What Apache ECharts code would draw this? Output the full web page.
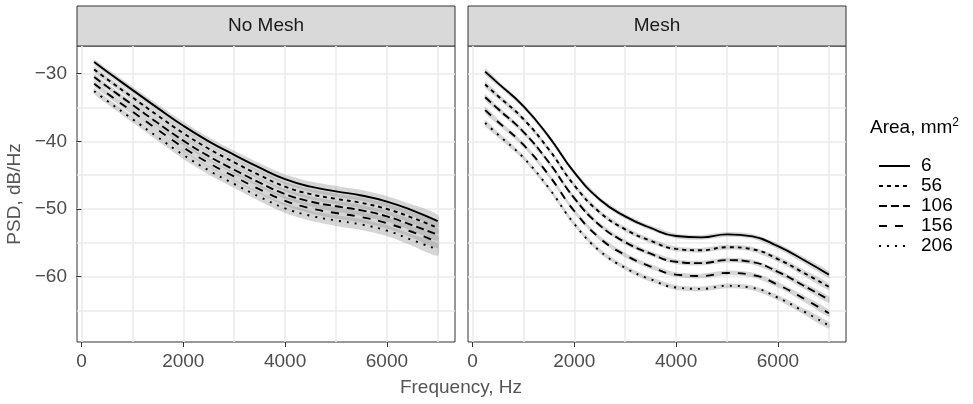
<!DOCTYPE html>
<html>
<head>
<meta charset="utf-8">
<script src="https://cdn.jsdelivr.net/npm/echarts@6/dist/echarts.min.js"></script>
<style>
  html, body { margin: 0; padding: 0; background: #fff; }
  #chart { width: 973px; height: 404px; }
</style>
</head>
<body>
<div id="chart"></div>
<script>
// 数据：频率 (Hz)
const freq = [250, 500, 1000, 1500, 2000, 2500, 3000, 3500, 4000, 4500, 5000, 5500, 6000, 6500, 7000];
const areas = ['6', '56', '106', '156', '206'];
const panels = ['No Mesh', 'Mesh'];

// No Mesh 面板
const noMesh6   = [-28.3, -29.7, -32.4, -35.1, -37.7, -40.0, -42.0, -43.9, -45.6, -46.7, -47.4, -48.0, -48.9, -50.2, -51.8];
const noMesh56  = [-29.4, -30.8, -33.5, -36.2, -38.8, -41.1, -43.1, -45.0, -46.7, -47.8, -48.5, -49.1, -50.0, -51.3, -52.8];
const noMesh106 = [-30.5, -31.9, -34.6, -37.3, -39.9, -42.2, -44.2, -46.1, -47.8, -48.9, -49.6, -50.2, -51.1, -52.4, -53.8];
const noMesh156 = [-31.5, -32.9, -35.6, -38.3, -40.9, -43.2, -45.2, -47.1, -48.8, -49.9, -50.6, -51.2, -52.1, -53.4, -54.9];
const noMesh206 = [-32.6, -34.0, -36.7, -39.4, -42.0, -44.3, -46.3, -48.2, -49.9, -51.0, -51.7, -52.3, -53.2, -54.6, -56.0];
const noMeshCI  = [0.4, 0.45, 0.5, 0.55, 0.6, 0.6, 0.6, 0.65, 0.7, 0.75, 0.8, 0.8, 0.8, 0.85, 0.9];

// Mesh 面板
const mesh6   = [-29.7, -31.4, -34.8, -39.3, -44.6, -48.6, -51.1, -52.8, -54.0, -54.2, -53.75, -54.05, -55.5, -57.5, -59.7];
const mesh56  = [-31.6, -33.3, -36.7, -41.2, -46.5, -50.5, -53.0, -54.7, -55.9, -56.1, -55.65, -55.95, -57.4, -59.4, -61.5];
const mesh106 = [-33.5, -35.2, -38.6, -43.1, -48.4, -52.4, -54.9, -56.6, -57.8, -58.0, -57.55, -57.85, -59.3, -61.3, -63.4];
const mesh156 = [-35.4, -37.1, -40.5, -45.0, -50.3, -54.3, -56.8, -58.5, -59.7, -59.9, -59.45, -59.75, -61.2, -63.2, -65.4];
const mesh206 = [-37.3, -39.0, -42.4, -46.9, -52.2, -56.2, -58.7, -60.4, -61.6, -61.8, -61.35, -61.65, -63.1, -65.1, -67.2];
const meshCI  = [0.45, 0.4, 0.35, 0.35, 0.35, 0.35, 0.35, 0.35, 0.35, 0.35, 0.35, 0.35, 0.4, 0.45, 0.5];

const xTicks = [0, 2000, 4000, 6000];
const yTicks = [-60, -50, -40, -30];

const FONT = '"Liberation Sans", Arial, Helvetica, sans-serif';
const dashList = ['solid', [4, 4], [8, 4], [8, 8], [2, 6]]; // 线型

const chart = echarts.init(document.getElementById('chart'));

const gridBox = [
    { left: 77, top: 46, width: 378, height: 296 },
    { left: 468, top: 46, width: 378, height: 296 }
];

function makeX(idx) {
    return {
        type: 'value', gridIndex: idx,
        min: -87.5, max: 7337.5, splitNumber: 4,
        axisLine: { show: false },
        axisTick: { show: true, length: 5, customValues: xTicks, lineStyle: { color: '#333', width: 1 } },
        axisLabel: {
            customValues: xTicks, color: '#4d4d4d', fontSize: 19, fontFamily: FONT, margin: 10,
            formatter: v => String(v)
        },
        splitLine: { show: true, lineStyle: { color: '#ebebeb', width: 1.6 } },
        minorTick: { show: false, splitNumber: 2 },
        minorSplitLine: { show: true, lineStyle: { color: '#ebebeb', width: 1.6 } }
    };
}

function makeY(idx) {
    return {
        type: 'value', gridIndex: idx,
        min: -69.65, max: -25.92, splitNumber: 4,
        axisLine: { show: false },
        axisTick: { show: idx === 0, length: 5, customValues: yTicks, lineStyle: { color: '#333', width: 1 } },
        axisLabel: {
            show: idx === 0, customValues: yTicks, color: '#4d4d4d', fontSize: 19, fontFamily: FONT, margin: 10,
            formatter: v => (v < 0 ? '\u2212' + Math.abs(v) : String(v))
        },
        splitLine: { show: true, lineStyle: { color: '#ebebeb', width: 1.6 } },
        minorTick: { show: false, splitNumber: 2 },
        minorSplitLine: { show: true, lineStyle: { color: '#ebebeb', width: 1.6 } }
    };
}

// 置信带：用 custom 系列画多边形
function bandSeries(idx, vals, ci) {
    return {
        type: 'custom', xAxisIndex: idx, yAxisIndex: idx, silent: true, z: 1,
        data: freq.map((f, j) => [f, vals[j] - ci[j], vals[j] + ci[j]]),
        encode: { x: 0, y: [1, 2] },
        renderItem: (params, api) => {
            if (params.dataIndex !== 0) return null;
            const upper = freq.map((f, j) => api.coord([f, vals[j] + ci[j]]));
            const lower = freq.map((f, j) => api.coord([f, vals[j] - ci[j]])).reverse();
            return {
                type: 'polygon',
                shape: { points: upper.concat(lower), smooth: 0.25 },
                style: { fill: 'rgba(153,153,153,0.4)', stroke: null }
            };
        }
    };
}

function panelSeries(idx, lines, ci) {
    const out = [];
    lines.forEach(vals => out.push(bandSeries(idx, vals, ci)));
    lines.forEach((vals, i) => {
        out.push({
            name: areas[i], type: 'line', xAxisIndex: idx, yAxisIndex: idx,
            symbol: 'none', smooth: 0.5, z: 3,
            lineStyle: { color: '#000', width: 1.9, type: dashList[i] },
            itemStyle: { color: '#000' },
            data: freq.map((f, j) => [f, vals[j]])
        });
    });
    return out;
}

const series = [].concat(
    panelSeries(0, [noMesh6, noMesh56, noMesh106, noMesh156, noMesh206], noMeshCI),
    panelSeries(1, [mesh6, mesh56, mesh106, mesh156, mesh206], meshCI)
);

// 分面标题条
const strips = [];
gridBox.forEach((g, i) => {
    strips.push({
        type: 'rect',
        shape: { x: g.left, y: 6, width: g.width, height: 40 },
        style: { fill: '#d9d9d9', stroke: '#333', lineWidth: 1 }
    });
    strips.push({
        type: 'text', x: g.left + g.width / 2, y: 26,
        style: { text: panels[i], fill: '#1a1a1a', font: '19px ' + FONT, align: 'center', verticalAlign: 'middle' }
    });
});

chart.setOption({
    animation: false,
    backgroundColor: '#fff',
    grid: gridBox.map(g => Object.assign({ show: true, borderColor: '#333', borderWidth: 1, backgroundColor: '#fff', containLabel: false }, g)),
    xAxis: [makeX(0), makeX(1)],
    yAxis: [makeY(0), makeY(1)],
    legend: {
        data: areas, orient: 'vertical', left: 873, top: 151,
        itemWidth: 31, itemHeight: 4, itemGap: 0, selectedMode: false,
        itemStyle: { color: 'rgba(0,0,0,0)', borderWidth: 0, opacity: 0 },
        textStyle: { fontFamily: FONT, fontSize: 19, color: '#000', lineHeight: 20, padding: [0, 0, 0, 6] }
    },
    graphic: strips.concat([
        {
            type: 'text', x: 15, y: 194, rotation: Math.PI / 2,
            style: { text: 'PSD, dB/Hz', fill: '#555', font: '19px ' + FONT, align: 'center', verticalAlign: 'middle' }
        },
        {
            type: 'text', x: 461, y: 388,
            style: { text: 'Frequency, Hz', fill: '#555', font: '19px ' + FONT, align: 'center', verticalAlign: 'middle' }
        },
        {
            type: 'text', x: 870, y: 128,
            style: {
                text: '{a|Area, mm}{s|2}', verticalAlign: 'middle',
                rich: {
                    a: { fontSize: 19, fontFamily: FONT, fill: '#000', lineHeight: 22 },
                    s: { fontSize: 12, fontFamily: FONT, fill: '#000', verticalAlign: 'top', lineHeight: 22 }
                }
            }
        }
    ]),
    series: series
});
</script>
</body>
</html>
